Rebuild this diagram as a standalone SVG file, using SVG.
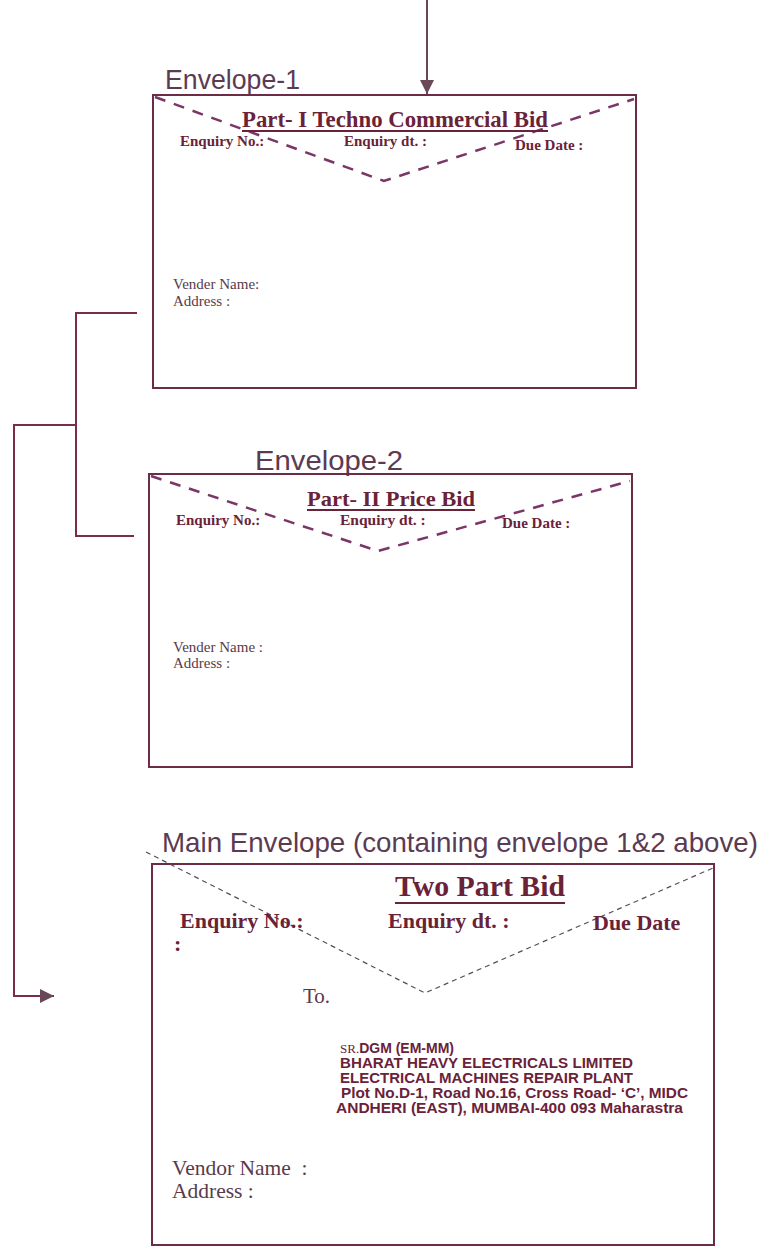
<svg xmlns="http://www.w3.org/2000/svg" width="764" height="1255" viewBox="0 0 764 1255">
<defs>
<style>
.env{fill:none;stroke:#6b2c48;stroke-width:2}
.flap{fill:none;stroke:#7b3566;stroke-width:2.5;stroke-dasharray:11 9}
.flapthin{fill:none;stroke:#5a4a55;stroke-width:1.2;stroke-dasharray:5 4}
.lbl{font-family:"Liberation Sans",Arial,sans-serif;fill:#5b3b52}
.fld{font-family:"Liberation Serif","Times New Roman",serif;font-weight:bold;fill:#6a2238}
.reg{font-family:"Liberation Serif","Times New Roman",serif;fill:#5a3a4a}
.adr{font-family:"Liberation Sans",Arial,sans-serif;font-weight:bold;fill:#6a2238;font-size:14px}
.conn{fill:none;stroke:#7a2d4a;stroke-width:2}
.ul{stroke:#6a2238;stroke-width:2}
</style>
<marker id="ah" viewBox="0 0 10 10" refX="10" refY="5" markerWidth="14" markerHeight="14" markerUnits="userSpaceOnUse" orient="auto">
<path d="M0,0 L10,5 L0,10 z" fill="#6b4858"/>
</marker>
</defs>
<rect width="764" height="1255" fill="#ffffff"/>

<g id="connectors">
<line x1="427" y1="0" x2="427" y2="94" stroke="#6b4858" stroke-width="2" marker-end="url(#ah)"/>
<polyline class="conn" points="137,313 76,313 76,536 134,536"/>
<polyline class="conn" points="76,425 14,425 14,996 54,996" marker-end="url(#ah)"/>
</g>

<g id="envelope-1">
<text class="lbl" x="165" y="89" font-size="27" textLength="135" lengthAdjust="spacingAndGlyphs">Envelope-1</text>
<rect class="env" x="153" y="95" width="483" height="293"/>
<polyline class="flap" points="155,97 384,181 634,99"/>
<text class="fld" x="242" y="127" font-size="23" textLength="306" lengthAdjust="spacingAndGlyphs">Part- I Techno Commercial Bid</text>
<line class="ul" x1="242" y1="131" x2="548" y2="131"/>
<text class="fld" x="180" y="146" font-size="15">Enquiry No.:</text>
<text class="fld" x="344" y="146" font-size="15">Enquiry dt. :</text>
<text class="fld" x="515" y="150" font-size="15">Due Date :</text>
<text class="reg" x="173" y="289" font-size="15">Vender Name:</text>
<text class="reg" x="173" y="306" font-size="15">Address :</text>
</g>

<g id="envelope-2">
<text class="lbl" x="255" y="470" font-size="28" textLength="148" lengthAdjust="spacingAndGlyphs">Envelope-2</text>
<rect class="env" x="149" y="474" width="483" height="293"/>
<polyline class="flap" points="151,476 378,551 630,481"/>
<text class="fld" x="307" y="506" font-size="21.5" textLength="168" lengthAdjust="spacingAndGlyphs">Part- II Price Bid</text>
<line class="ul" x1="307" y1="510" x2="475" y2="510"/>
<text class="fld" x="176" y="525" font-size="15">Enquiry No.:</text>
<text class="fld" x="340" y="525" font-size="15.5">Enquiry dt. :</text>
<text class="fld" x="502" y="528" font-size="15">Due Date :</text>
<text class="reg" x="173" y="652" font-size="15">Vender Name :</text>
<text class="reg" x="173" y="668" font-size="15">Address :</text>
</g>

<g id="main-envelope">
<text class="lbl" x="162" y="852" font-size="28" textLength="596" lengthAdjust="spacingAndGlyphs">Main Envelope (containing envelope 1&amp;2 above)</text>
<rect class="env" x="152" y="864" width="562" height="381"/>
<polyline class="flapthin" points="146,852 425,993 713,868"/>
<text class="fld" x="395" y="896" font-size="29" textLength="170" lengthAdjust="spacingAndGlyphs">Two Part Bid</text>
<line class="ul" x1="395" y1="903" x2="565" y2="903" stroke-width="2.5"/>
<text class="fld" x="180" y="928" font-size="22">Enquiry No.:</text>
<text class="fld" x="174" y="951" font-size="22">:</text>
<text class="fld" x="388" y="928" font-size="22">Enquiry dt. :</text>
<text class="fld" x="593" y="930" font-size="22">Due Date</text>
<text class="reg" x="303" y="1003" font-size="21">To.</text>
<text class="adr" x="340" y="1053"><tspan font-family="'Liberation Serif','Times New Roman',serif" font-weight="normal" font-size="13">SR.</tspan>DGM (EM-MM)</text>
<text class="adr" x="340" y="1068" textLength="293" lengthAdjust="spacingAndGlyphs">BHARAT HEAVY ELECTRICALS LIMITED</text>
<text class="adr" x="340" y="1083" textLength="293" lengthAdjust="spacingAndGlyphs">ELECTRICAL MACHINES REPAIR PLANT</text>
<text class="adr" x="341" y="1098" textLength="347" lengthAdjust="spacingAndGlyphs">Plot No.D-1, Road No.16, Cross Road- ‘C’, MIDC</text>
<text class="adr" x="336" y="1113" textLength="347" lengthAdjust="spacingAndGlyphs">ANDHERI (EAST), MUMBAI-400 093 Maharastra</text>
<text class="reg" x="172" y="1175" font-size="21.5" xml:space="preserve">Vendor Name  :</text>
<text class="reg" x="172" y="1198" font-size="21.5">Address :</text>
</g>
</svg>
